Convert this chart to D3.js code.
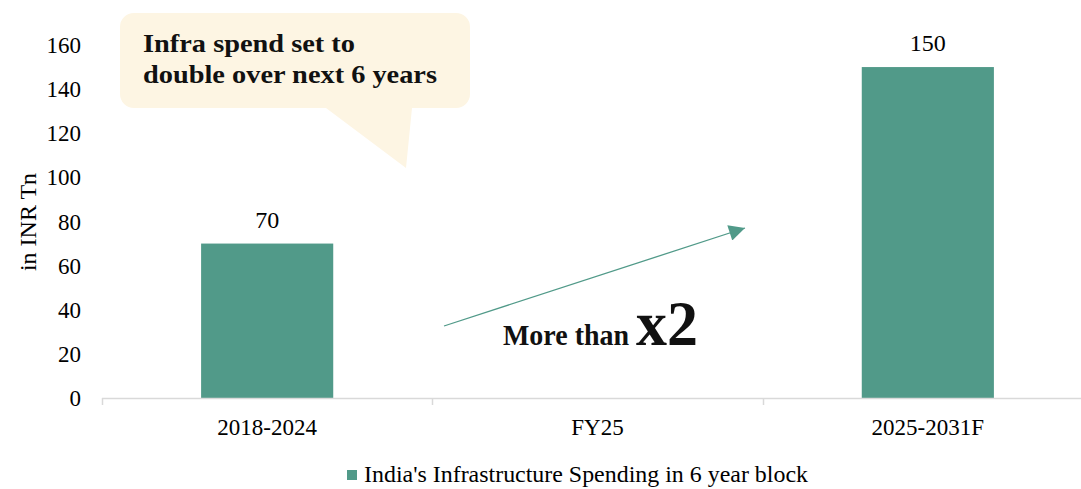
<!DOCTYPE html>
<html><head><meta charset="utf-8">
<script src="https://cdn.jsdelivr.net/npm/d3@7"></script>
<style>body{margin:0;background:#fff}svg{display:block}</style>
</head><body>
<svg id="c" width="1081" height="489"></svg>
<script>
const categories = ["2018-2024", "FY25", "2025-2031F"];
const values = [70, null, 150];
const yTicks = [0, 20, 40, 60, 80, 100, 120, 140, 160];
const seriesName = "India's Infrastructure Spending in 6 year block";
const yLabel = "in INR Tn";
const calloutLines = ["Infra spend set to", "double over next 6 years"];

const svg = d3.select("#c");
const serif = "'Liberation Serif','Times New Roman',serif";
const barColor = "#519a89";

const x = d3.scaleBand().domain(categories).range([102, 1093]).paddingInner(0.6).paddingOuter(0.3);
const y = d3.scaleLinear().domain([0, 160]).range([398, 45]);

// y axis labels
svg.append("g").selectAll("text").data(yTicks).join("text")
  .attr("x", 81).attr("y", d => y(d)).attr("dy", "0.35em")
  .attr("text-anchor", "end").attr("font-family", serif).attr("font-size", 23).attr("fill", "#000")
  .text(d => d);

svg.append("text").attr("transform", "translate(36,222) rotate(-90)")
  .attr("text-anchor", "middle").attr("font-family", serif).attr("font-size", 24).text(yLabel);

// bars
const data = categories.map((c, i) => ({c, v: values[i]})).filter(d => d.v != null);
svg.append("g").selectAll("rect").data(data).join("rect")
  .attr("x", d => x(d.c)).attr("width", x.bandwidth())
  .attr("y", d => y(d.v)).attr("height", d => y(0) - y(d.v)).attr("fill", barColor);

svg.append("g").selectAll("text").data(data).join("text")
  .attr("x", d => x(d.c) + x.bandwidth() / 2).attr("y", d => y(d.v) - 16)
  .attr("text-anchor", "middle").attr("font-family", serif).attr("font-size", 24).text(d => d.v);

// x axis
const xa = svg.append("g");
xa.append("line").attr("x1", 102).attr("x2", 1093).attr("y1", 398.5).attr("y2", 398.5)
  .attr("stroke", "#d9d9d9").attr("stroke-width", 1.5);
const bounds = categories.map((c, i) => x(c) - x.step() * x.paddingInner() / 2);
bounds.push(1093);
xa.selectAll("line.t").data(bounds).join("line").attr("class", "t")
  .attr("x1", d => Math.round(d) + 0.5).attr("x2", d => Math.round(d) + 0.5)
  .attr("y1", 398).attr("y2", 405).attr("stroke", "#d9d9d9").attr("stroke-width", 1.5);
xa.selectAll("text").data(categories).join("text")
  .attr("x", d => x(d) + x.bandwidth() / 2).attr("y", 435)
  .attr("text-anchor", "middle").attr("font-family", serif).attr("font-size", 23).text(d => d);

// callout
const cg = svg.append("g");
const cx0 = 120, cy0 = 13, cw = 350, ch = 95, r = 14;
const p = d3.path();
p.moveTo(cx0 + r, cy0);
p.lineTo(cx0 + cw - r, cy0); p.arcTo(cx0 + cw, cy0, cx0 + cw, cy0 + r, r);
p.lineTo(cx0 + cw, cy0 + ch - r); p.arcTo(cx0 + cw, cy0 + ch, cx0 + cw - r, cy0 + ch, r);
p.lineTo(412, cy0 + ch); p.lineTo(406, 168); p.lineTo(326, cy0 + ch);
p.lineTo(cx0 + r, cy0 + ch); p.arcTo(cx0, cy0 + ch, cx0, cy0 + ch - r, r);
p.lineTo(cx0, cy0 + r); p.arcTo(cx0, cy0, cx0 + r, cy0, r);
p.closePath();
cg.append("path").attr("d", p.toString()).attr("fill", "#fdf5e3");
const calloutWidths = [212, 294];
cg.selectAll("text").data(calloutLines).join("text")
  .attr("x", 143).attr("y", (d, i) => 52 + i * 31)
  .attr("font-family", serif).attr("font-weight", "bold").attr("font-size", 25).attr("fill", "#111")
  .attr("textLength", (d, i) => calloutWidths[i]).attr("lengthAdjust", "spacingAndGlyphs")
  .text(d => d);

// arrow
svg.append("defs").append("marker").attr("id", "ah").attr("viewBox", "0 0 10 10")
  .attr("refX", 10).attr("refY", 5).attr("markerWidth", 18).attr("markerHeight", 16)
  .attr("markerUnits", "userSpaceOnUse").attr("orient", "auto")
  .append("path").attr("d", "M0,0L10,5L0,10Z").attr("fill", barColor);
svg.append("line").attr("x1", 444).attr("y1", 326).attr("x2", 745).attr("y2", 228)
  .attr("stroke", barColor).attr("stroke-width", 1.3).attr("marker-end", "url(#ah)");

svg.append("text").attr("x", 503).attr("y", 345).attr("font-family", serif)
  .attr("font-weight", "bold").attr("fill", "#111").attr("font-size", 29)
  .attr("textLength", 126).attr("lengthAdjust", "spacingAndGlyphs").text("More than");
svg.append("text").attr("x", 636).attr("y", 345).attr("font-family", serif)
  .attr("font-weight", "bold").attr("fill", "#111").attr("font-size", 64)
  .attr("textLength", 62).attr("lengthAdjust", "spacingAndGlyphs").text("x2");

// legend
svg.append("rect").attr("x", 347).attr("y", 470).attr("width", 10).attr("height", 10).attr("fill", barColor);
svg.append("text").attr("x", 364).attr("y", 482).attr("font-family", serif).attr("font-size", 24)
  .attr("textLength", 444).attr("lengthAdjust", "spacingAndGlyphs")
  .text(seriesName);
</script>
</body></html>
